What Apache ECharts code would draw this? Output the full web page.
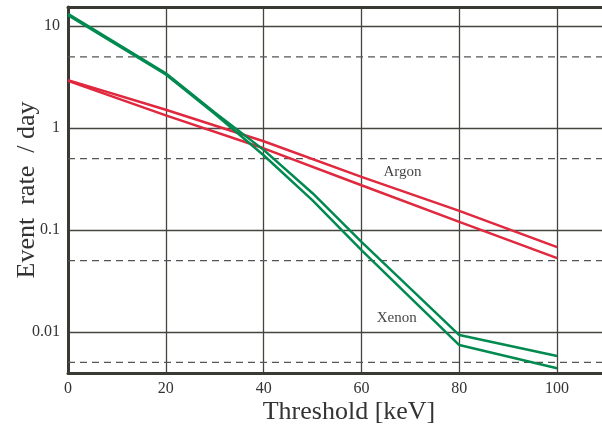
<!DOCTYPE html>
<html>
<head>
<meta charset="utf-8">
<script src="https://cdn.jsdelivr.net/npm/echarts@6/dist/echarts.min.js"></script>
<style>html,body{margin:0;padding:0;background:#fff}#c{width:602px;height:430px}</style>
</head>
<body>
<div id="c"></div>
<script>
// ---- data ----
const argonEnergies = [0, 20, 40, 60, 80, 100];
const argonHigh = [2.95, 1.51, 0.741, 0.331, 0.1535, 0.0677];
const argonLow  = [2.90, 1.33, 0.632, 0.274, 0.120, 0.0528];
const xenonEnergies = [0, 20, 30, 40, 50, 60, 80, 100];
const xenonHigh = [13.2, 3.45, 1.42, 0.61, 0.229, 0.0763, 0.00929, 0.00578];
const xenonLow  = [12.8, 3.35, 1.38, 0.54, 0.195, 0.0632, 0.00741, 0.00438];
const xTickLabels = ['0', '20', '40', '60', '80', '100'];
const yTickLabels = ['0.01', '0.1', '1', '10'];
const halfDecadeLines = [5, 0.5, 0.05, 0.005];
const annotationNames = ['Argon', 'Xenon'];
const annotationX = [68.4, 67.2];
const annotationY = [0.368, 0.0136];

const FONT = 'Liberation Serif';
const RED = '#e0283e';
const GREEN = '#008a50';
const GRID = '#45453f';
const FRAME = '#3a3a34';
const X_MIN = 0, X_MAX = 110;

function pairs(xs, ys) { return xs.map((x, i) => [x, ys[i]]); }

const chart = echarts.init(document.getElementById('c'), null, { renderer: 'canvas' });
function lineSeries(name, xs, ys, color) {
  return {
    name, type: 'line', data: pairs(xs, ys), symbol: 'none', smooth: false,
    lineStyle: { color, width: 2.5 }, z: 5, silent: true
  };
}
const dashedSeries = halfDecadeLines.map(v => ({
  type: 'line', data: [[X_MIN, v], [X_MAX, v]], symbol: 'none', silent: true, z: 3,
  lineStyle: { color: '#555', type: [7, 5], width: 1.3 }
}));

chart.setOption({
  animation: false,
  backgroundColor: '#fff',
  grid: { left: 68, right: -4, top: 7, bottom: 57, containLabel: false, outerBoundsMode: 'none' },
  xAxis: [{
    type: 'value', min: X_MIN, max: X_MAX, interval: 20,
    axisLine: { show: true, onZero: false, lineStyle: { color: FRAME, width: 3 } },
    axisTick: { show: false },
    splitLine: { show: true, lineStyle: { color: GRID, width: 1.3 } },
    axisLabel: {
      fontFamily: FONT, fontSize: 16, color: '#333', margin: 8,
      formatter: v => { const i = xTickLabels.indexOf(String(v)); return i >= 0 ? xTickLabels[i] : ''; }
    },
    name: 'Threshold [keV]', nameLocation: 'middle', nameGap: 26, nameMoveOverlap: false,
    nameTextStyle: { fontFamily: FONT, fontSize: 26, color: '#333', padding: [0, 0, 0, 24] }
  }, {
    type: 'value', min: X_MIN, max: X_MAX, interval: 20, position: 'top',
    axisLine: { show: true, lineStyle: { color: FRAME, width: 3 } },
    axisTick: { show: false }, axisLabel: { show: false }, splitLine: { show: false }
  }],
  yAxis: {
    type: 'log', logBase: 10, min: 0.00394, max: 15.4,
    axisLine: { show: true, lineStyle: { color: FRAME, width: 3 } },
    axisTick: { show: false },
    splitLine: { show: true, lineStyle: { color: GRID, width: 1.3 } },
    axisLabel: {
      fontFamily: FONT, fontSize: 16, color: '#333', margin: 8,
      formatter: v => {
        const l = Math.log10(v), r = Math.round(l);
        if (Math.abs(l - r) > 1e-6) return '';
        const s = yTickLabels.find(t => Math.abs(Math.log10(parseFloat(t)) - r) < 1e-6);
        return s || '';
      }
    },
    name: 'Event  rate  / day', nameLocation: 'middle', nameGap: 28, nameMoveOverlap: false,
    nameTextStyle: { fontFamily: FONT, fontSize: 26, color: '#333' }
  },
  series: dashedSeries.concat([
    lineSeries('Argon high', argonEnergies, argonHigh, RED),
    lineSeries('Argon low', argonEnergies, argonLow, RED),
    lineSeries('Xenon high', xenonEnergies, xenonHigh, GREEN),
    lineSeries('Xenon low', xenonEnergies, xenonLow, GREEN),
    {
      type: 'scatter', silent: true, z: 6,
      data: annotationNames.map((n, i) => ({ name: n, value: [annotationX[i], annotationY[i]] })),
      symbolSize: 2, itemStyle: { color: 'rgba(0,0,0,0)' },
      label: { show: true, position: 'inside', fontFamily: FONT, fontSize: 15, color: '#111',
               textBorderWidth: 0, formatter: p => p.name }
    }
  ])
});
</script>
</body>
</html>
